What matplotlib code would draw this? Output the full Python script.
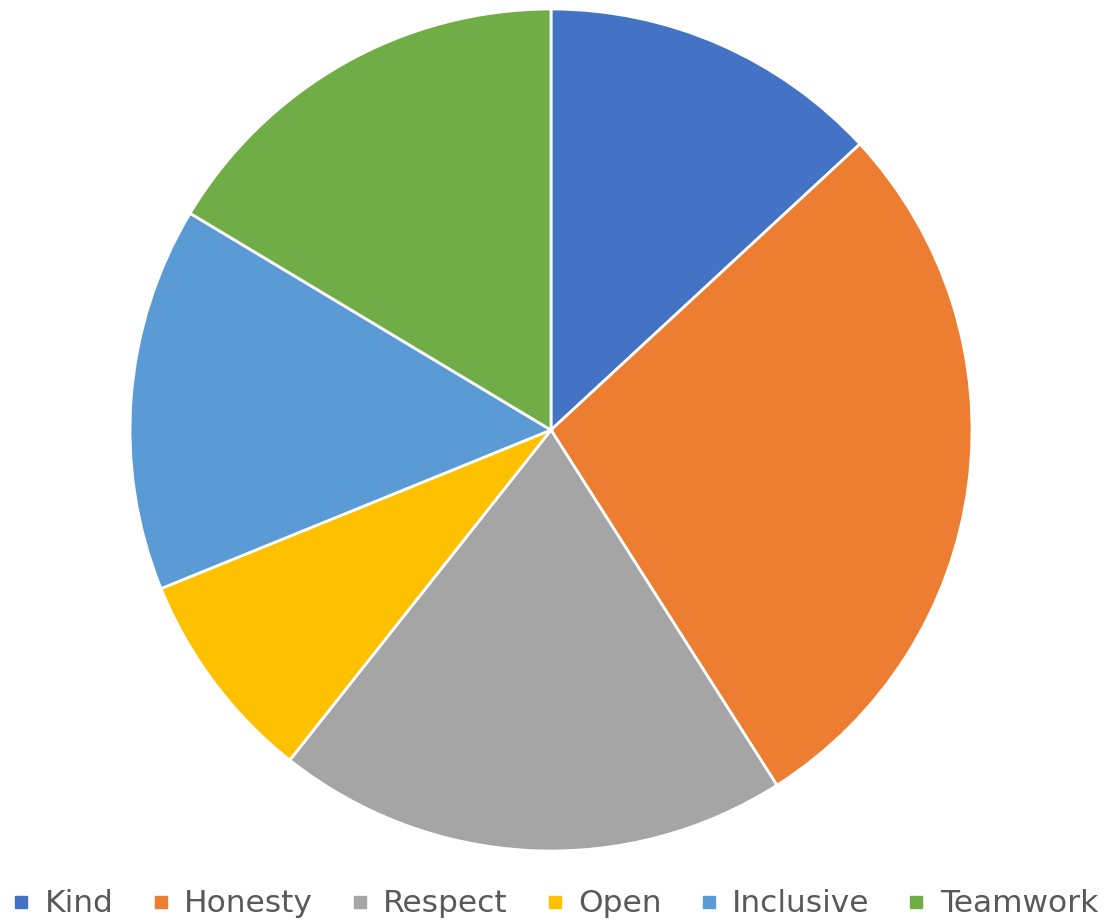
import matplotlib
matplotlib.use("Agg")
import matplotlib.pyplot as plt
from matplotlib.lines import Line2D

labels = ["Kind", "Honesty", "Respect", "Open", "Inclusive", "Teamwork"]
values = [16, 34, 24, 10, 18, 20]
colors = ["#4472C4", "#ED7D31", "#A5A5A5", "#FFC000", "#5B9BD5", "#70AD47"]

W, H = 1107, 923
fig = plt.figure(figsize=(W / 100, H / 100), dpi=100)

# pie centred at (551, 430) px with radius ~421 px
cx, cy, r = 551, 430, 421
ax = fig.add_axes([(cx - r) / W, (H - cy - r) / H, 2 * r / W, 2 * r / H])
ax.pie(values, colors=colors, startangle=90, counterclock=False,
       wedgeprops=dict(edgecolor="white", linewidth=2), radius=1.0)
ax.set_xlim(-1, 1)
ax.set_ylim(-1, 1)
ax.set_aspect("equal")
ax.axis("off")

handles = [Line2D([], [], marker="s", linestyle="none", markersize=9,
                  markerfacecolor=c, markeredgecolor=c) for c in colors]
fig.legend(handles, labels, loc="center", bbox_to_anchor=(0.5, 1 - 904 / H),
           ncol=6, frameon=False, fontsize=22.5, labelcolor="#595959",
           handletextpad=0.35, columnspacing=1.1, handlelength=0.8)

fig.savefig("out.png", dpi=100, facecolor="white")
